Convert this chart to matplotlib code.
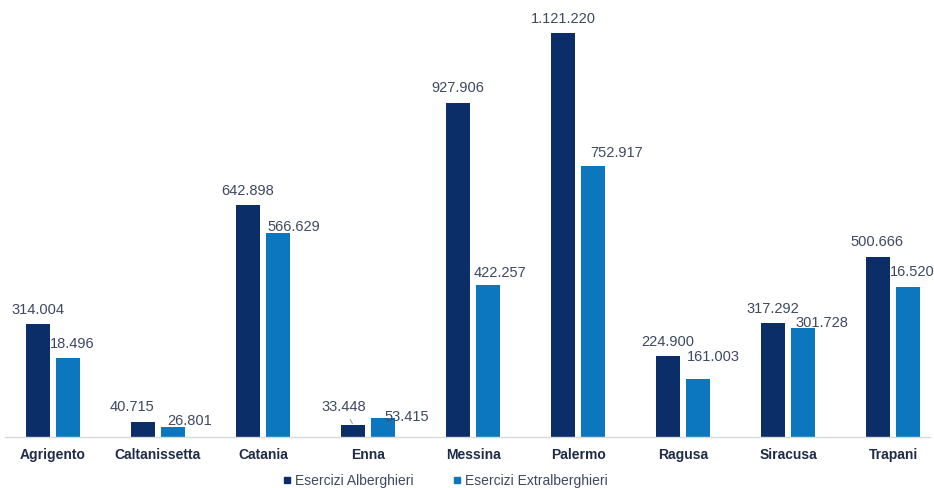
import matplotlib
matplotlib.use("Agg")
import numpy as np
import matplotlib.pyplot as plt
from matplotlib.lines import Line2D

# dati
province = ["Agrigento", "Caltanissetta", "Catania", "Enna", "Messina",
            "Palermo", "Ragusa", "Siracusa", "Trapani"]
alberghieri = [314004, 40715, 642898, 33448, 927906, 1121220, 224900, 317292, 500666]
extralberghieri = [218496, 26801, 566629, 53415, 422257, 752917, 161003, 301728, 416520]

# etichette come appaiono nel grafico
etich_alb = ["314.004", "40.715", "642.898", "33.448", "927.906",
             "1.121.220", "224.900", "317.292", "500.666"]
etich_extra = ["18.496", "26.801", "566.629", "53.415", "422.257",
               "752.917", "161.003", "301.728", "16.520"]

# spostamento etichette (pixel) rispetto al centro della barra
dx_alb = [0, -11, 0, -9, 0, 0, 0, 0, -1]
dy_alb = [14, 15, 14, 18, 15, 14, 14, 14, 15]
dx_extra = [4, 17, 16, 24, 12, 24, 15, 19, 4]
dy_extra = [14, 6, 6, 1, 12, 13, 22, 5, 15]

col_alb = "#0B2E69"
col_extra = "#0C77BE"
col_testo = "#3E4860"

W, H = 934, 488
fig = plt.figure(figsize=(W / 100, H / 100), dpi=100)
ax = fig.add_axes([5 / W, 51 / H, 925 / W, 437 / H])

x = np.arange(len(province))
larg = 0.225
off = 0.143

ax.bar(x - off, alberghieri, larg, color=col_alb, label="Esercizi Alberghieri")
ax.bar(x + off, extralberghieri, larg, color=col_extra, label="Esercizi Extralberghieri")

for i in range(len(province)):
    if province[i] == "Enna":
        ax.annotate(etich_alb[i], xy=(x[i] - off, alberghieri[i]),
                    xytext=(dx_alb[i], dy_alb[i]), textcoords="offset pixels",
                    ha="center", va="center", fontsize=10.5,
                    family="Liberation Sans", color=col_testo,
                    arrowprops=dict(arrowstyle="-", color="#A6A6A6", lw=0.8,
                                    shrinkA=2, shrinkB=1))
    else:
        ax.annotate(etich_alb[i], xy=(x[i] - off, alberghieri[i]),
                    xytext=(dx_alb[i], dy_alb[i]), textcoords="offset pixels",
                    ha="center", va="center", fontsize=10.5,
                    family="Liberation Sans", color=col_testo)
    ax.annotate(etich_extra[i], xy=(x[i] + off, extralberghieri[i]),
                xytext=(dx_extra[i], dy_extra[i]), textcoords="offset pixels",
                ha="center", va="center", fontsize=10.5,
                family="Liberation Sans", color=col_testo)

ax.set_xlim(-0.457, 8.352)
ax.set_ylim(0, 1121220 * 437 / 404)

ax.set_xticks(x)
ax.set_xticklabels(province, fontsize=10, fontweight="bold",
                   family="Liberation Sans", color="#1F2B47")
ax.tick_params(axis="x", length=0, pad=8)
ax.set_yticks([])
for s in ["top", "right", "left"]:
    ax.spines[s].set_visible(False)
ax.spines["bottom"].set_color("#D9D9D9")
ax.spines["bottom"].set_linewidth(1.0)

maniglie = [Line2D([], [], marker="s", linestyle="none", markersize=4.5, color=col_alb),
            Line2D([], [], marker="s", linestyle="none", markersize=4.5, color=col_extra)]
fig.legend(maniglie, ["Esercizi Alberghieri", "Esercizi Extralberghieri"],
           loc="center", bbox_to_anchor=(445 / W, 1 - 481 / H), ncol=2,
           frameon=False, handlelength=0.6, handletextpad=0.3, columnspacing=2.8,
           prop={"family": "Liberation Sans", "size": 10}, labelcolor=col_testo)

fig.savefig("out.png", dpi=100)
